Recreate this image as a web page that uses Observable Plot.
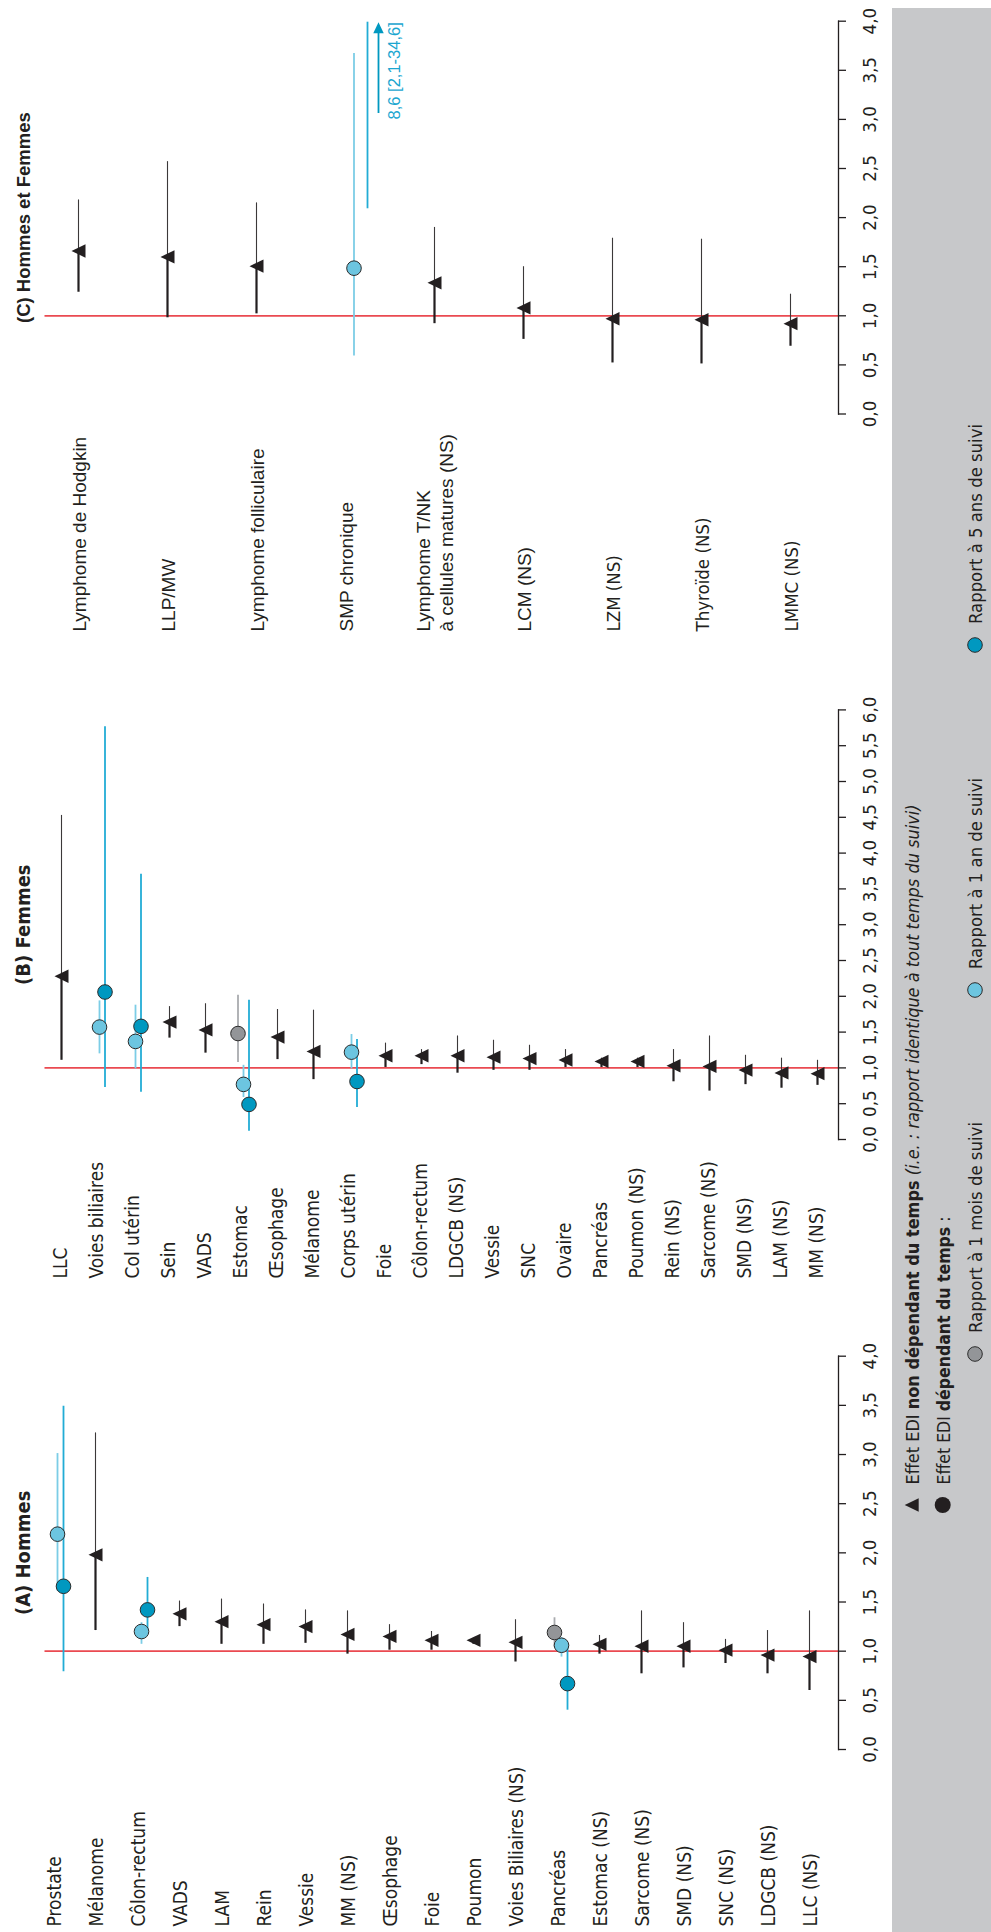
<!DOCTYPE html>
<html><head><meta charset="utf-8">
<script src="https://cdn.jsdelivr.net/npm/d3@7"></script>
<script src="https://cdn.jsdelivr.net/npm/@observablehq/plot@0.6"></script>
<style>
html,body{margin:0;padding:0;background:#fff;}
body{width:991px;height:1932px;overflow:hidden;position:relative;}
#land{position:absolute;left:0;top:0;width:1932px;height:991px;transform-origin:0 0;transform:translateY(1932px) rotate(-90deg);}
#band{position:absolute;left:0;top:892px;width:1924px;height:99px;background:#c7c8ca;}
.panel{position:absolute;top:0;}
</style></head>
<body><div id="land"><div id="band"></div></div>
<script>
// ---------------- (A) Hommes ----------------
const catsA = ["Prostate","Mélanome","Côlon-rectum","VADS","LAM","Rein","Vessie","MM (NS)","Œsophage","Foie","Poumon","Voies Biliaires (NS)","Pancréas","Estomac (NS)","Sarcome (NS)","SMD (NS)","SNC (NS)","LDGCB (NS)","LLC (NS)"];
const triA = [
  {c:"Mélanome",v:1.98,lo:1.22,hi:3.23},
  {c:"VADS",v:1.38,lo:1.26,hi:1.52},
  {c:"LAM",v:1.30,lo:1.08,hi:1.54},
  {c:"Rein",v:1.27,lo:1.08,hi:1.49},
  {c:"Vessie",v:1.25,lo:1.09,hi:1.43},
  {c:"MM (NS)",v:1.17,lo:0.98,hi:1.42},
  {c:"Œsophage",v:1.15,lo:1.02,hi:1.28},
  {c:"Foie",v:1.11,lo:1.02,hi:1.21},
  {c:"Poumon",v:1.11,lo:1.08,hi:1.14},
  {c:"Voies Biliaires (NS)",v:1.09,lo:0.90,hi:1.33},
  {c:"Estomac (NS)",v:1.07,lo:0.98,hi:1.17},
  {c:"Sarcome (NS)",v:1.05,lo:0.78,hi:1.42},
  {c:"SMD (NS)",v:1.05,lo:0.84,hi:1.30},
  {c:"SNC (NS)",v:1.01,lo:0.885,hi:1.13},
  {c:"LDGCB (NS)",v:0.96,lo:0.78,hi:1.22},
  {c:"LLC (NS)",v:0.945,lo:0.61,hi:1.42}
];
const mois1A = [{c:"Pancréas",v:1.19,lo:1.05,hi:1.35}];
const an1A = [
  {c:"Prostate",v:2.19,lo:1.62,hi:3.02},
  {c:"Côlon-rectum",v:1.20,lo:1.08,hi:1.30},
  {c:"Pancréas",v:1.06,lo:0.95,hi:1.15}
];
const ans5A = [
  {c:"Prostate",v:1.66,lo:0.80,hi:3.50},
  {c:"Côlon-rectum",v:1.42,lo:1.22,hi:1.76},
  {c:"Pancréas",v:0.67,lo:0.41,hi:1.06}
];

// ---------------- (B) Femmes ----------------
const catsB = ["LLC","Voies biliaires","Col utérin","Sein","VADS","Estomac","Œsophage","Mélanome","Corps utérin","Foie","Côlon-rectum","LDGCB (NS)","Vessie","SNC","Ovaire","Pancréas","Poumon (NS)","Rein (NS)","Sarcome (NS)","SMD (NS)","LAM (NS)","MM (NS)"];
const triB = [
  {c:"LLC",v:2.28,lo:1.12,hi:4.54},
  {c:"Sein",v:1.64,lo:1.43,hi:1.87},
  {c:"VADS",v:1.53,lo:1.22,hi:1.91},
  {c:"Œsophage",v:1.43,lo:1.13,hi:1.83},
  {c:"Mélanome",v:1.23,lo:0.85,hi:1.82},
  {c:"Foie",v:1.17,lo:1.02,hi:1.36},
  {c:"Côlon-rectum",v:1.17,lo:1.06,hi:1.27},
  {c:"LDGCB (NS)",v:1.17,lo:0.94,hi:1.46},
  {c:"Vessie",v:1.15,lo:0.98,hi:1.40},
  {c:"SNC",v:1.13,lo:0.98,hi:1.33},
  {c:"Ovaire",v:1.11,lo:1.02,hi:1.27},
  {c:"Pancréas",v:1.09,lo:1.02,hi:1.15},
  {c:"Poumon (NS)",v:1.09,lo:1.02,hi:1.15},
  {c:"Rein (NS)",v:1.03,lo:0.82,hi:1.27},
  {c:"Sarcome (NS)",v:1.02,lo:0.69,hi:1.46},
  {c:"SMD (NS)",v:0.97,lo:0.78,hi:1.19},
  {c:"LAM (NS)",v:0.93,lo:0.73,hi:1.15},
  {c:"MM (NS)",v:0.92,lo:0.77,hi:1.12}
];
const mois1B = [{c:"Estomac",v:1.48,lo:1.09,hi:2.03}];
const an1B = [
  {c:"Voies biliaires",v:1.57,lo:1.21,hi:1.95},
  {c:"Col utérin",v:1.37,lo:1.00,hi:1.89},
  {c:"Estomac",v:0.77,lo:0.60,hi:1.05},
  {c:"Corps utérin",v:1.22,lo:1.00,hi:1.48}
];
const ans5B = [
  {c:"Voies biliaires",v:2.06,lo:0.74,hi:5.78},
  {c:"Col utérin",v:1.58,lo:0.675,hi:3.72},
  {c:"Estomac",v:0.49,lo:0.13,hi:1.96},
  {c:"Corps utérin",v:0.81,lo:0.46,hi:1.41}
];

// ---------------- (C) Hommes et Femmes ----------------
const catsC = ["Lymphome de Hodgkin","LLP/MW","Lymphome folliculaire","SMP chronique","Lymphome T/NK\nà cellules matures (NS)","LCM (NS)","LZM (NS)","Thyroïde (NS)","LMMC (NS)"];
const triC = [
  {c:"Lymphome de Hodgkin",v:1.66,lo:1.25,hi:2.19},
  {c:"LLP/MW",v:1.60,lo:0.99,hi:2.58},
  {c:"Lymphome folliculaire",v:1.505,lo:1.03,hi:2.16},
  {c:"Lymphome T/NK\nà cellules matures (NS)",v:1.336,lo:0.93,hi:1.91},
  {c:"LCM (NS)",v:1.08,lo:0.77,hi:1.51},
  {c:"LZM (NS)",v:0.97,lo:0.53,hi:1.80},
  {c:"Thyroïde (NS)",v:0.96,lo:0.52,hi:1.79},
  {c:"LMMC (NS)",v:0.92,lo:0.70,hi:1.23}
];
const mois1C = [];
const an1C = [{c:"SMP chronique",v:1.485,lo:0.60,hi:3.68}];
const ans5C = [{c:"SMP chronique",v:8.6,lo:2.1,hi:34.6}];

const xTicksA = [0,0.5,1,1.5,2,2.5,3,3.5,4];
const xTicksB = [0,0.5,1,1.5,2,2.5,3,3.5,4,4.5,5,5.5,6];
const xTicksC = [0,0.5,1,1.5,2,2.5,3,3.5,4];

// ---------------- styles ----------------
const NARROW = '"DejaVu Sans Condensed","DejaVu Sans",sans-serif';
const REG = '"Liberation Sans",Arial,sans-serif';
const RED = "#ea4a51", INK = "#231f20";
const GRAY_FILL = "#939598", GRAY_LINE = "#a9abae";
const LIGHT_FILL = "#6cc5e0", LIGHT_LINE = "#7ccde6";
const TEAL_FILL = "#0098c0", TEAL_LINE = "#22acd5";
const TRI = {draw(ctx, size){ const r = Math.sqrt(size/Math.PI); ctx.moveTo(0,-r); ctx.lineTo(r*0.95,r); ctx.lineTo(-r*0.95,r); ctx.closePath(); }};
const fmt = d => d.toFixed(1).replace(".", ",");

function panel(o){
  const H = 991, bottom = 838, top = 44.5;
  const ci = (data, stroke, dy) => Plot.ruleY(data, {y:"c", x1:"lo", x2:d => Math.min(d.hi, o.max), stroke, strokeWidth:1.8, dy});
  const dots = (data, fill, dy) => Plot.dot(data.filter(d => d.v <= o.max), {x:"v", y:"c", r:7.3, fill, stroke:"#2b2b2b", strokeWidth:1, dy});
  const over = o.y5.filter(d => d.v > o.max);
  const marks = [
    Plot.ruleX([1], {stroke:RED, strokeWidth:1.7}),
    Plot.frame({anchor:"bottom", stroke:INK, strokeWidth:1.3}),
    Plot.axisX({ticks:o.ticks, tickSize:8, tickPadding:16, tickFormat:fmt, stroke:INK, strokeWidth:1.3, fill:INK, label:null, fontSize:18.5, fontFamily:NARROW}),
    Plot.text([o.title], {frameAnchor:"top", dy:-15.5, lineAnchor:"bottom", fontWeight:"bold", fontSize:o.titleSize, fontFamily:o.titleFont, fill:INK}),
    Plot.ruleY(o.tri, {y:"c", x1:"lo", x2:"v", stroke:INK, strokeWidth:2.2}),
    Plot.ruleY(o.tri, {y:"c", x1:"v", x2:"hi", stroke:"#3b3839", strokeWidth:1.1}),
    ci(o.m1, GRAY_LINE, o.off[0]),
    ci(o.y1, LIGHT_LINE, o.off[1]),
    ci(o.y5, TEAL_LINE, o.off[2]),
    Plot.dot(o.tri, {x:"v", y:"c", symbol:TRI, r:7, fill:INK}),
    dots(o.m1, GRAY_FILL, o.off[0]),
    dots(o.y1, LIGHT_FILL, o.off[1]),
    dots(o.y5, TEAL_FILL, o.off[2]),
    Plot.ruleY(over, {y:"c", x1:o.max - 0.93, x2:o.max - 0.1, stroke:TEAL_FILL, strokeWidth:1.8, dy:o.off[2] + 11}),
    Plot.dot(over, {x:o.max, y:"c", symbol:TRI, r:5.5, rotate:90, fill:TEAL_FILL, dx:-6.5, dy:o.off[2] + 11}),
    Plot.text(over, {x:o.max, y:"c", text:d => `${fmt(d.v)} [${fmt(d.lo)}-${fmt(d.hi)}]`, textAnchor:"end", lineAnchor:"bottom", dx:-1, dy:o.off[2] + 32, fill:"#1ba6d0", fontFamily:REG, fontSize:16.5})
  ];
  for (const g of o.labelGroups) {
    marks.push(Plot.text(g.cats, {y:d => d, text:d => d, frameAnchor:"left", textAnchor:"start", lineAnchor:"middle", dx:o.labelDx, dy:g.dy || 0, fontSize:g.size, fontFamily:g.font, fill:INK, lineHeight:1.2}));
  }
  const svg = Plot.plot({
    width:o.width, height:H,
    marginLeft:o.mL, marginRight:o.width - o.mL - o.plotW, marginTop:top, marginBottom:H - bottom,
    x:{domain:[0,o.max], label:null},
    y:{type:"point", domain:o.cats, padding:o.padding, align:o.align, axis:null},
    style:{fontFamily:NARROW, fontSize:"19px", overflow:"visible", background:"transparent", color:INK},
    marks
  });
  svg.classList.add("panel");
  svg.style.left = o.left + "px";
  document.getElementById("land").appendChild(svg);
}

panel({cats:catsA, tri:triA, m1:mois1A, y1:an1A, y5:ans5A, max:4, ticks:xTicksA,
  left:0, width:600, mL:182, plotW:393.3, padding:0.355, align:0.236,
  title:"(A) Hommes", titleSize:20, titleFont:NARROW, labelDx:-177, off:[-3,4,10],
  labelGroups:[{cats:catsA, size:19, font:NARROW}]});
panel({cats:catsB, tri:triB, m1:mois1B, y1:an1B, y5:ans5B, max:6, ticks:xTicksB,
  left:600, width:640, mL:192, plotW:429.6, padding:0.415, align:0.427,
  title:"(B) Femmes", titleSize:20, titleFont:NARROW, labelDx:-139, off:[-3.5,2,7.5],
  labelGroups:[{cats:catsB, size:19, font:NARROW, dy:-2}]});
panel({cats:catsC, tri:triC, m1:mois1C, y1:an1C, y5:ans5C, max:4, ticks:xTicksC,
  left:1240, width:692, mL:277.5, plotW:392.8, padding:0.418, align:0.417,
  title:"(C) Hommes et Femmes", titleSize:18.5, titleFont:REG, labelDx:-217.5, off:[0,8.5,22],
  labelGroups:[{cats:catsC.slice(0,6), size:19, font:REG},{cats:catsC.slice(6), size:18.5, font:NARROW}]});

// ---------------- legend (grey band) ----------------
const lg = d3.select("#land").append("svg")
  .attr("width",1924).attr("height",99)
  .style("position","absolute").style("left","0px").style("top","892px")
  .style("font-family",NARROW).style("font-size","18.5px").style("fill",INK);
const tri = (cx, cy, r) => `M${cx},${cy-r}L${cx+r*0.95},${cy+r}L${cx-r*0.95},${cy+r}Z`;
lg.append("path").attr("d", tri(427,19.7,7)).attr("fill",INK);
const t1 = lg.append("text").attr("x",447.5).attr("y",26.5)
  .attr("textLength",680).attr("lengthAdjust","spacingAndGlyphs");
t1.append("tspan").text("Effet EDI ");
t1.append("tspan").attr("font-weight","bold").text("non dépendant du temps");
t1.append("tspan").attr("font-style","italic").text(" (i.e. : rapport identique à tout temps du suivi)");
lg.append("circle").attr("cx",427).attr("cy",50.7).attr("r",8).attr("fill",INK);
const t2 = lg.append("text").attr("x",447.5).attr("y",57.5)
  .attr("textLength",268).attr("lengthAdjust","spacingAndGlyphs");
t2.append("tspan").text("Effet EDI ");
t2.append("tspan").attr("font-weight","bold").text("dépendant du temps");
t2.append("tspan").text(" :");
const legItems = [
  {label:"Rapport à 1 mois de suivi", fill:GRAY_FILL, cx:578, len:211},
  {label:"Rapport à 1 an de suivi", fill:LIGHT_FILL, cx:942, len:191},
  {label:"Rapport à 5 ans de suivi", fill:TEAL_FILL, cx:1287, len:200}
];
for (const it of legItems) {
  lg.append("circle").attr("cx",it.cx).attr("cy",83).attr("r",7.3).attr("fill",it.fill).attr("stroke","#2b2b2b").attr("stroke-width",1);
  lg.append("text").attr("x",it.cx + 21).attr("y",89.5)
    .attr("textLength",it.len).attr("lengthAdjust","spacingAndGlyphs").text(it.label);
}
</script>
</body></html>
